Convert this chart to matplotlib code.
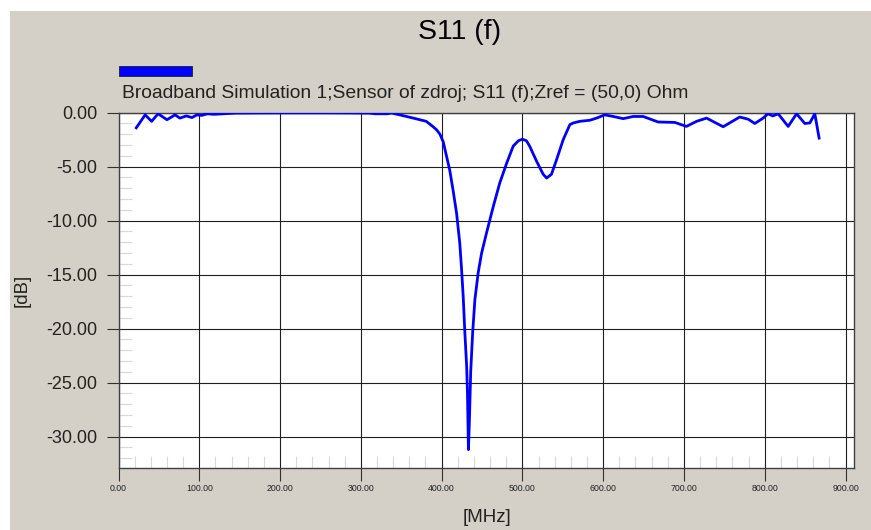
import matplotlib.pyplot as plt
import matplotlib.patches as mpatches
from matplotlib.ticker import MultipleLocator, FormatStrFormatter

W, H = 871, 530

# S11 sweep
freq_mhz = [22, 33, 41, 49, 60, 70, 76, 84, 91, 97, 103, 110, 118, 130, 145,
            170, 200, 230, 260, 290, 310, 318, 325, 333, 338, 348, 365, 373,
            381, 389, 394, 398, 402, 406, 410, 414, 418.5, 422.5, 424.7, 426.7,
            428.8, 431, 432, 433.2, 434.4, 436, 438.4, 441.2, 445.3, 449.5,
            455.7, 463.9, 472, 480.4, 488.6, 495, 500, 505, 509, 517.6, 525.7,
            530, 536, 542.3, 550.5, 558.8, 563, 571, 583.5, 591.8, 602, 612.4,
            624.8, 637, 649.5, 668, 688.7, 703, 715.6, 728, 748.5, 769, 779.5,
            787.7, 798, 804, 810, 816.6, 829, 839.4, 849.6, 855.8, 862, 867.3]
s11_db = [-1.4, -0.2, -0.8, -0.1, -0.65, -0.2, -0.5, -0.3, -0.45, -0.2,
          -0.25, -0.1, -0.15, -0.1, -0.04, -0.03, -0.02, -0.02, -0.02, -0.03,
          -0.04, -0.1, -0.1, -0.1, -0.03, -0.2, -0.5, -0.65, -0.8, -1.27,
          -1.6, -2.0, -2.7, -4.0, -5.3, -7.1, -9.3, -12.1, -14.5, -17.0,
          -20.4, -23.5, -26.0, -31.2, -28.5, -24.0, -20.4, -17.3, -14.8,
          -13.0, -11.1, -8.7, -6.5, -4.7, -3.1, -2.6, -2.45, -2.6, -3.1,
          -4.5, -5.7, -6.05, -5.7, -4.35, -2.5, -1.1, -0.95, -0.8, -0.7,
          -0.5, -0.2, -0.35, -0.55, -0.35, -0.35, -0.86, -0.9, -1.27, -0.8,
          -0.5, -1.3, -0.4, -0.6, -1.0, -0.5, -0.1, -0.3, -0.1, -1.27, -0.1,
          -1.0, -0.95, -0.1, -2.35]

legend_text = "Broadband Simulation 1;Sensor of zdroj; S11 (f);Zref = (50,0) Ohm"

plt.rcParams['font.family'] = ['Liberation Sans', 'DejaVu Sans']


def fx(x):
    return x / W


def fy(y):
    return 1 - y / H


fig = plt.figure(figsize=(W / 100, H / 100), dpi=100, facecolor='white')
# grey panel behind everything
fig.patches.append(mpatches.Rectangle((fx(10), 0), 1, fy(11), transform=fig.transFigure,
                                      facecolor='#d4d0c8', edgecolor='none', zorder=-10))

left, right, top, bottom = 118.5, 854, 112.7, 468.3
ax = fig.add_axes([fx(left), fy(bottom), fx(right) - fx(left), fy(top) - fy(bottom)])
ax.set_facecolor('white')

ax.plot(freq_mhz, s11_db, color='#0000ff', lw=2.0, zorder=3,
        solid_joinstyle='round')

ax.set_xlim(0, 910.5)
ax.set_ylim(-32.93, 0)

ax.xaxis.set_major_locator(MultipleLocator(100))
ax.xaxis.set_minor_locator(MultipleLocator(20))
ax.yaxis.set_major_locator(MultipleLocator(5))
ax.yaxis.set_minor_locator(MultipleLocator(1))
ax.xaxis.set_major_formatter(FormatStrFormatter('%.2f'))
ax.yaxis.set_major_formatter(FormatStrFormatter('%.2f'))

ax.grid(True, which='major', color='#202020', lw=0.8)
ax.tick_params(axis='both', which='major', direction='out', length=9, width=0.8,
               color='#303030')
ax.tick_params(axis='y', which='major', labelsize=13, labelcolor='#222222', pad=6)
ax.tick_params(axis='x', which='major', labelsize=6.3, labelcolor='#222222', pad=2)
ax.tick_params(axis='both', which='minor', direction='in', length=9, width=0.8,
               color='#d8d8d8')

for sp in ax.spines.values():
    sp.set_color('#404040')
    sp.set_linewidth(1.0)

fig.text(fx(460), fy(32), "S11 (f)", fontsize=20.5, ha='center', va='center', color='black')
fig.patches.append(mpatches.Rectangle((fx(119), fy(76)), fx(192) - fx(119), fy(66) - fy(76),
                                      transform=fig.transFigure, facecolor='#0000ff',
                                      edgecolor='#202020', lw=0.6, zorder=2))
fig.text(fx(122), fy(94), legend_text, fontsize=13.9, ha='left', va='center', color='#222222')
fig.text(fx(22), fy(290), "[dB]", fontsize=13.4, rotation=90, ha='center', va='center',
         color='#222222')
fig.text(fx(487), fy(518), "[MHz]", fontsize=13.5, ha='center', va='center', color='#222222')

fig.savefig('out.png', dpi=100, facecolor=fig.get_facecolor())
